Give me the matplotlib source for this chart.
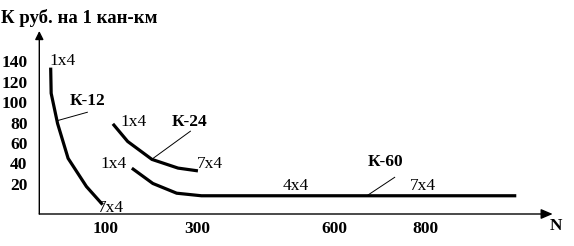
import matplotlib
matplotlib.use("Agg")
import matplotlib.pyplot as plt

# ---- data ----
k12_n = [-19, -18, -4, 19, 59, 92]
k12_k = [132, 108.5, 79, 45, 17.5, 1]

k24_n = [119, 149, 202, 259, 299]
k24_k = [77.5, 61.5, 44, 35.5, 33]

k60_n = [161, 204, 256, 310, 994]
k60_k = [34.5, 20.5, 11, 8.5, 8.5]

x_ticks = [100, 300, 600, 800]
y_ticks = [20, 40, 60, 80, 100, 120, 140]

title_text = "К руб. на 1 кан-км"
x_name = "N"

# point labels: (text, N, K, bold)
point_labels = [
    ("1x4", -21, 140, False),
    ("К-12", 23, 101, True),
    ("7x4", 84, -3.4, False),
    ("1x4", 134, 80.5, False),
    ("К-24", 245, 80.5, True),
    ("7x4", 300, 39.5, False),
    ("1x4", 90, 39.5, False),
    ("4x4", 488, 18, False),
    ("7x4", 765, 18, False),
    ("К-60", 673, 41.5, True),
]
# leader lines: (N1, K1, N2, K2)
leaders = [
    (61, 90, -3, 82),
    (286, 71.5, 204.5, 45),
    (732, 26.5, 674, 9.3),
]

x_min, x_max = -43.9, 1077
y_min, y_max = -9.3, 169.3

serif = ["Liberation Serif", "DejaVu Serif"]
FS = 12.5

fig = plt.figure(figsize=(5.74, 2.46), dpi=100)
fig.patch.set_facecolor("white")
ax = fig.add_axes([39.3 / 574, (246 - 214) / 246, (552.7 - 39.3) / 574, (214 - 31) / 246])
ax.set_xlim(x_min, x_max)
ax.set_ylim(y_min, y_max)
for s in ax.spines.values():
    s.set_visible(False)

# axes with arrows
ax.annotate("", xy=(x_max, y_min), xytext=(x_min, y_min),
            arrowprops=dict(arrowstyle="-|>,head_length=0.7,head_width=0.3", lw=1, color="black",
                            shrinkA=0, shrinkB=0), annotation_clip=False)
ax.annotate("", xy=(x_min, y_max), xytext=(x_min, y_min),
            arrowprops=dict(arrowstyle="-|>,head_length=0.5,head_width=0.25", lw=1, color="black",
                            shrinkA=0, shrinkB=0), annotation_clip=False)

ax.set_xticks(x_ticks)
ax.set_xticklabels([str(v) for v in x_ticks], fontfamily=serif, fontweight="bold", fontsize=FS)
ax.set_yticks(y_ticks)
ax.set_yticklabels([str(v) for v in y_ticks], fontfamily=serif, fontweight="bold", fontsize=FS)
ax.tick_params(axis="x", length=0, pad=5)
ax.tick_params(axis="y", length=0, pad=8.5)

lw = 2.3
ax.plot(k12_n, k12_k, color="black", lw=lw, solid_joinstyle="miter", clip_on=False)
ax.plot(k24_n, k24_k, color="black", lw=lw, solid_joinstyle="miter", clip_on=False)
ax.plot(k60_n, k60_k, color="black", lw=lw, solid_joinstyle="miter", clip_on=False)

for (n1, k1, n2, k2) in leaders:
    ax.plot([n1, n2], [k1, k2], color="black", lw=0.7, clip_on=False)

for text, n, k, bold in point_labels:
    ax.text(n, k, text, fontfamily=serif, fontsize=FS,
            fontweight="bold" if bold else "normal", ha="left", va="center")

ax.text(1071, -21, x_name, fontfamily=serif, fontsize=FS, fontweight="bold",
        ha="left", va="center", clip_on=False)

fig.text(1 / 574, 1 - 18 / 246, title_text, fontfamily=serif, fontsize=13.5,
         fontweight="bold", ha="left", va="center")

fig.savefig("out.png", dpi=100)
